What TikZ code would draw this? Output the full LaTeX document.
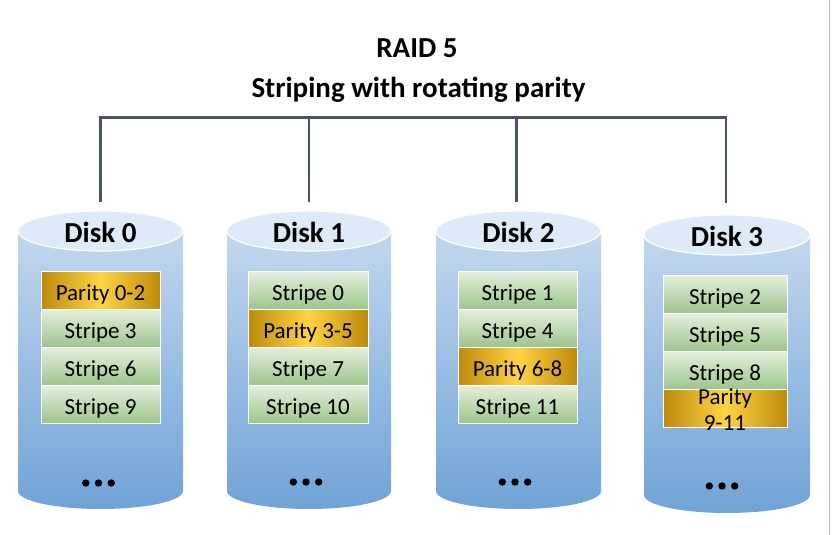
\documentclass[tikz,border=0pt]{standalone}
\usepackage{fontspec}
\setmainfont{Carlito}
\definecolor{diskTop}{HTML}{C8DBF0}
\definecolor{diskBot}{HTML}{70A3D6}
\definecolor{diskCap}{HTML}{DEEAF7}
\definecolor{grTop}{HTML}{E3EFDB}
\definecolor{grBot}{HTML}{9DC48C}
\definecolor{goldEdge}{HTML}{BD8B0C}
\definecolor{goldMid}{HTML}{FFD443}
\definecolor{busCol}{HTML}{44546A}
\definecolor{edgeGray}{HTML}{B8B8B8}
\tikzset{
  diskbody/.style={top color=diskTop,bottom color=diskBot},
  diskcap/.style={fill=diskCap,draw=white,line width=1.2pt},
  disklabel/.style={anchor=base,font=\fontsize{29}{32}\selectfont\bfseries},
  titletext/.style={anchor=base,font=\fontsize{29}{32}\selectfont\bfseries},
  blockbase/.style={rectangle,draw=white,line width=1pt,minimum height=38pt,inner sep=0pt,anchor=north,text height=19pt,text depth=0pt,font=\fontsize{23}{26}\selectfont},
  stripebox/.style={blockbase,top color=grTop,bottom color=grBot},
  paritybox/.style={blockbase,left color=goldEdge,right color=goldEdge,middle color=goldMid},
  paritytext/.style={anchor=base,inner sep=0pt,font=\fontsize{23}{26}\selectfont},
  bus/.style={draw=busCol,line width=2.2pt},
  dotmark/.style={fill=black,draw=none},
  frameline/.style={draw=edgeGray,line width=0.8pt}
}
\newcommand\raiddisk[5]{%
  % #1 cx, #2 half width, #3 top centre y, #4 bottom centre y, #5 name
  \shade[diskbody] (#1-#2,#3) -- (#1-#2,#4)
     arc[start angle=180,end angle=360,x radius=#2pt,y radius=18pt]
     -- (#1+#2,#3)
     arc[start angle=0,end angle=180,x radius=#2pt,y radius=20pt] -- cycle;
  \path[diskcap] (#1,#3) ellipse[x radius=#2pt,y radius=20pt];
  \coordinate (#5top) at (#1,#3-20);
}
\newcommand\diskdots[2]{%
  \fill[dotmark] (#1-12.7,#2) circle[radius=3.7pt];
  \fill[dotmark] (#1,#2) circle[radius=3.7pt];
  \fill[dotmark] (#1+12.7,#2) circle[radius=3.7pt];
}
\begin{document}
\begin{tikzpicture}[x=1pt,y=-1pt]
\useasboundingbox (0,0) rectangle (836,535);
% right frame edge
\coordinate (f0) at (829,0);
\coordinate (f1) at (829,535);
\draw[frameline] (f0) -- (f1);
% title
\node[titletext] (title1) at (417,58) {RAID 5};
\node[titletext] (title2) at (418.5,97) {Striping with rotating parity};
% disks
\raiddisk{100.5}{82.5}{231}{491}{d0}
\raiddisk{309}{82}{231}{491}{d1}
\raiddisk{518.5}{82.5}{231}{491}{d2}
\raiddisk{727}{83}{235}{495}{d3}
% bus
\coordinate (b0) at (100.5,117.5);
\coordinate (b1) at (309,117.5);
\coordinate (b2) at (516.5,117.5);
\coordinate (b3) at (726,117.5);
\coordinate (e0) at (100.5,202);
\coordinate (e1) at (309,202);
\coordinate (e2) at (516.5,202);
\coordinate (e3) at (726,203);
\draw[bus] (e0) -- (b0) -- (b3) -- (e3);
\draw[bus] (b1) -- (e1);
\draw[bus] (b2) -- (e2);
% labels
\node[disklabel] (l0) at (100.5,242) {Disk 0};
\node[disklabel] (l1) at (309,242) {Disk 1};
\node[disklabel] (l2) at (518.5,242) {Disk 2};
\node[disklabel] (l3) at (727,246) {Disk 3};
% disk 0
\node[paritybox,minimum width=119pt] (p0) at (100.5,271) {Parity 0-2};
\node[stripebox,minimum width=119pt] (s3) at (100.5,309) {Stripe 3};
\node[stripebox,minimum width=119pt] (s6) at (100.5,347) {Stripe 6};
\node[stripebox,minimum width=119pt] (s9) at (100.5,385) {Stripe 9};
% disk 1
\node[stripebox,minimum width=120pt] (s0) at (308,271) {Stripe 0};
\node[paritybox,minimum width=120pt] (p1) at (308,309) {Parity 3-5};
\node[stripebox,minimum width=120pt] (s7) at (308,347) {Stripe 7};
\node[stripebox,minimum width=120pt] (s10) at (308,385) {Stripe 10};
% disk 2
\node[stripebox,minimum width=119pt] (s1) at (517.5,271) {Stripe 1};
\node[stripebox,minimum width=119pt] (s4) at (517.5,309) {Stripe 4};
\node[paritybox,minimum width=119pt] (p2) at (517.5,347) {Parity 6-8};
\node[stripebox,minimum width=119pt] (s11) at (517.5,385) {Stripe 11};
% disk 3
\node[stripebox,minimum width=124pt] (s2) at (725,275) {Stripe 2};
\node[stripebox,minimum width=124pt] (s5) at (725,313) {Stripe 5};
\node[stripebox,minimum width=124pt] (s8) at (725,351) {Stripe 8};
\node[paritybox,minimum width=124pt] (p3) at (725,389) {};
\node[paritytext] (p3a) at (725,404) {Parity};
\node[paritytext] (p3b) at (725,430) {9-11};
% dots
\diskdots{98.5}{483}
\diskdots{306}{482}
\diskdots{515}{482}
\diskdots{722}{486}
\end{tikzpicture}
\end{document}
